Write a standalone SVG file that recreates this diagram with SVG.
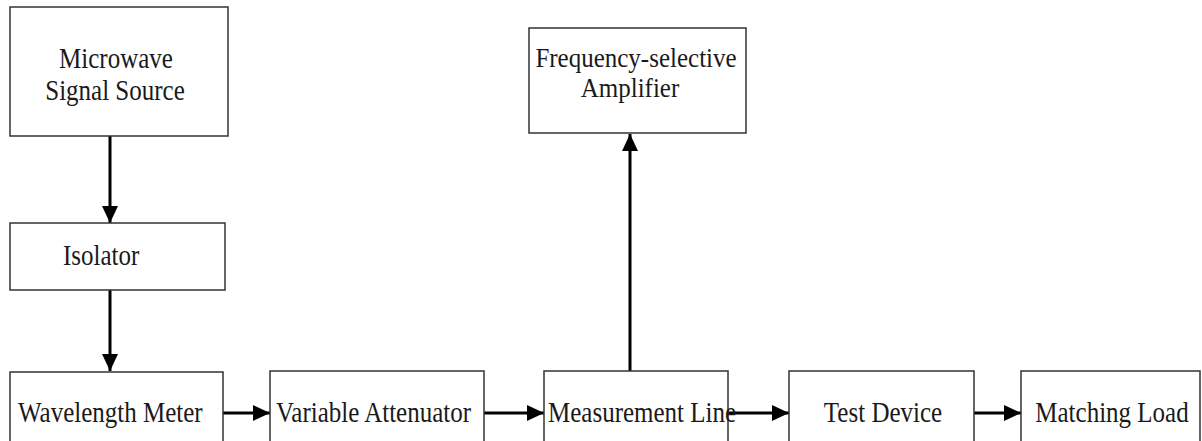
<svg xmlns="http://www.w3.org/2000/svg" width="1202" height="441" viewBox="0 0 1202 441">
  <style>
    .box { fill: #ffffff; stroke: #333333; stroke-width: 1.5; }
    .lbl { font-family: 'Liberation Serif', 'Times New Roman', Times, 'DejaVu Serif', serif; font-size: 25px; fill: #1a1a1a; }
    .wire { stroke: #000000; stroke-width: 3; fill: none; }
  </style>
  <defs>
    <marker id="head" markerUnits="userSpaceOnUse" markerWidth="20" markerHeight="18" refX="17" refY="8" orient="auto">
      <path d="M0,0 L17,8 L0,16 z" fill="#000000"/>
    </marker>
  </defs>
  <rect width="1202" height="441" fill="#ffffff"/>

  <g id="connectors">
    <line class="wire" x1="110" y1="136" x2="110" y2="223" marker-end="url(#head)"/>
    <line class="wire" x1="110" y1="290" x2="110" y2="371" marker-end="url(#head)"/>
    <line class="wire" x1="223" y1="413" x2="270" y2="413" marker-end="url(#head)"/>
    <line class="wire" x1="484" y1="413" x2="544" y2="413" marker-end="url(#head)"/>
    <line class="wire" x1="728" y1="413" x2="789" y2="413" marker-end="url(#head)"/>
    <line class="wire" x1="974" y1="413" x2="1021" y2="413" marker-end="url(#head)"/>
    <line class="wire" x1="630" y1="371" x2="630" y2="134" marker-end="url(#head)"/>
  </g>

  <g id="source">
    <rect class="box" x="10" y="7" width="218" height="129"/>
    <text class="lbl" transform="translate(116,68) scale(1,1.2)" text-anchor="middle">Microwave</text>
    <text class="lbl" transform="translate(115,100) scale(1,1.2)" text-anchor="middle">Signal Source</text>
  </g>

  <g id="isolator">
    <rect class="box" x="10" y="223" width="215" height="67"/>
    <text class="lbl" transform="translate(63,265) scale(1,1.2)">Isolator</text>
  </g>

  <g id="wavelength-meter">
    <rect class="box" x="10" y="372" width="213" height="80"/>
    <text class="lbl" transform="translate(18,422) scale(1,1.2)">Wavelength Meter</text>
  </g>

  <g id="variable-attenuator">
    <rect class="box" x="270" y="371" width="214" height="80"/>
    <text class="lbl" transform="translate(276,422) scale(1,1.2)">Variable Attenuator</text>
  </g>

  <g id="measurement-line">
    <rect class="box" x="544" y="371" width="184" height="80"/>
    <text class="lbl" transform="translate(548,422) scale(1,1.2)">Measurement Line</text>
  </g>

  <g id="test-device">
    <rect class="box" x="789" y="371" width="185" height="80"/>
    <text class="lbl" transform="translate(883,422) scale(1,1.2)" text-anchor="middle">Test Device</text>
  </g>

  <g id="matching-load">
    <rect class="box" x="1021" y="371" width="179" height="80"/>
    <text class="lbl" transform="translate(1112,422) scale(1,1.2)" text-anchor="middle">Matching Load</text>
  </g>

  <g id="amplifier">
    <rect class="box" x="529" y="28" width="217" height="105"/>
    <text class="lbl" transform="translate(636,67) scale(1,1.12)" text-anchor="middle">Frequency-selective</text>
    <text class="lbl" transform="translate(630,97) scale(1,1.12)" text-anchor="middle">Amplifier</text>
  </g>
</svg>
